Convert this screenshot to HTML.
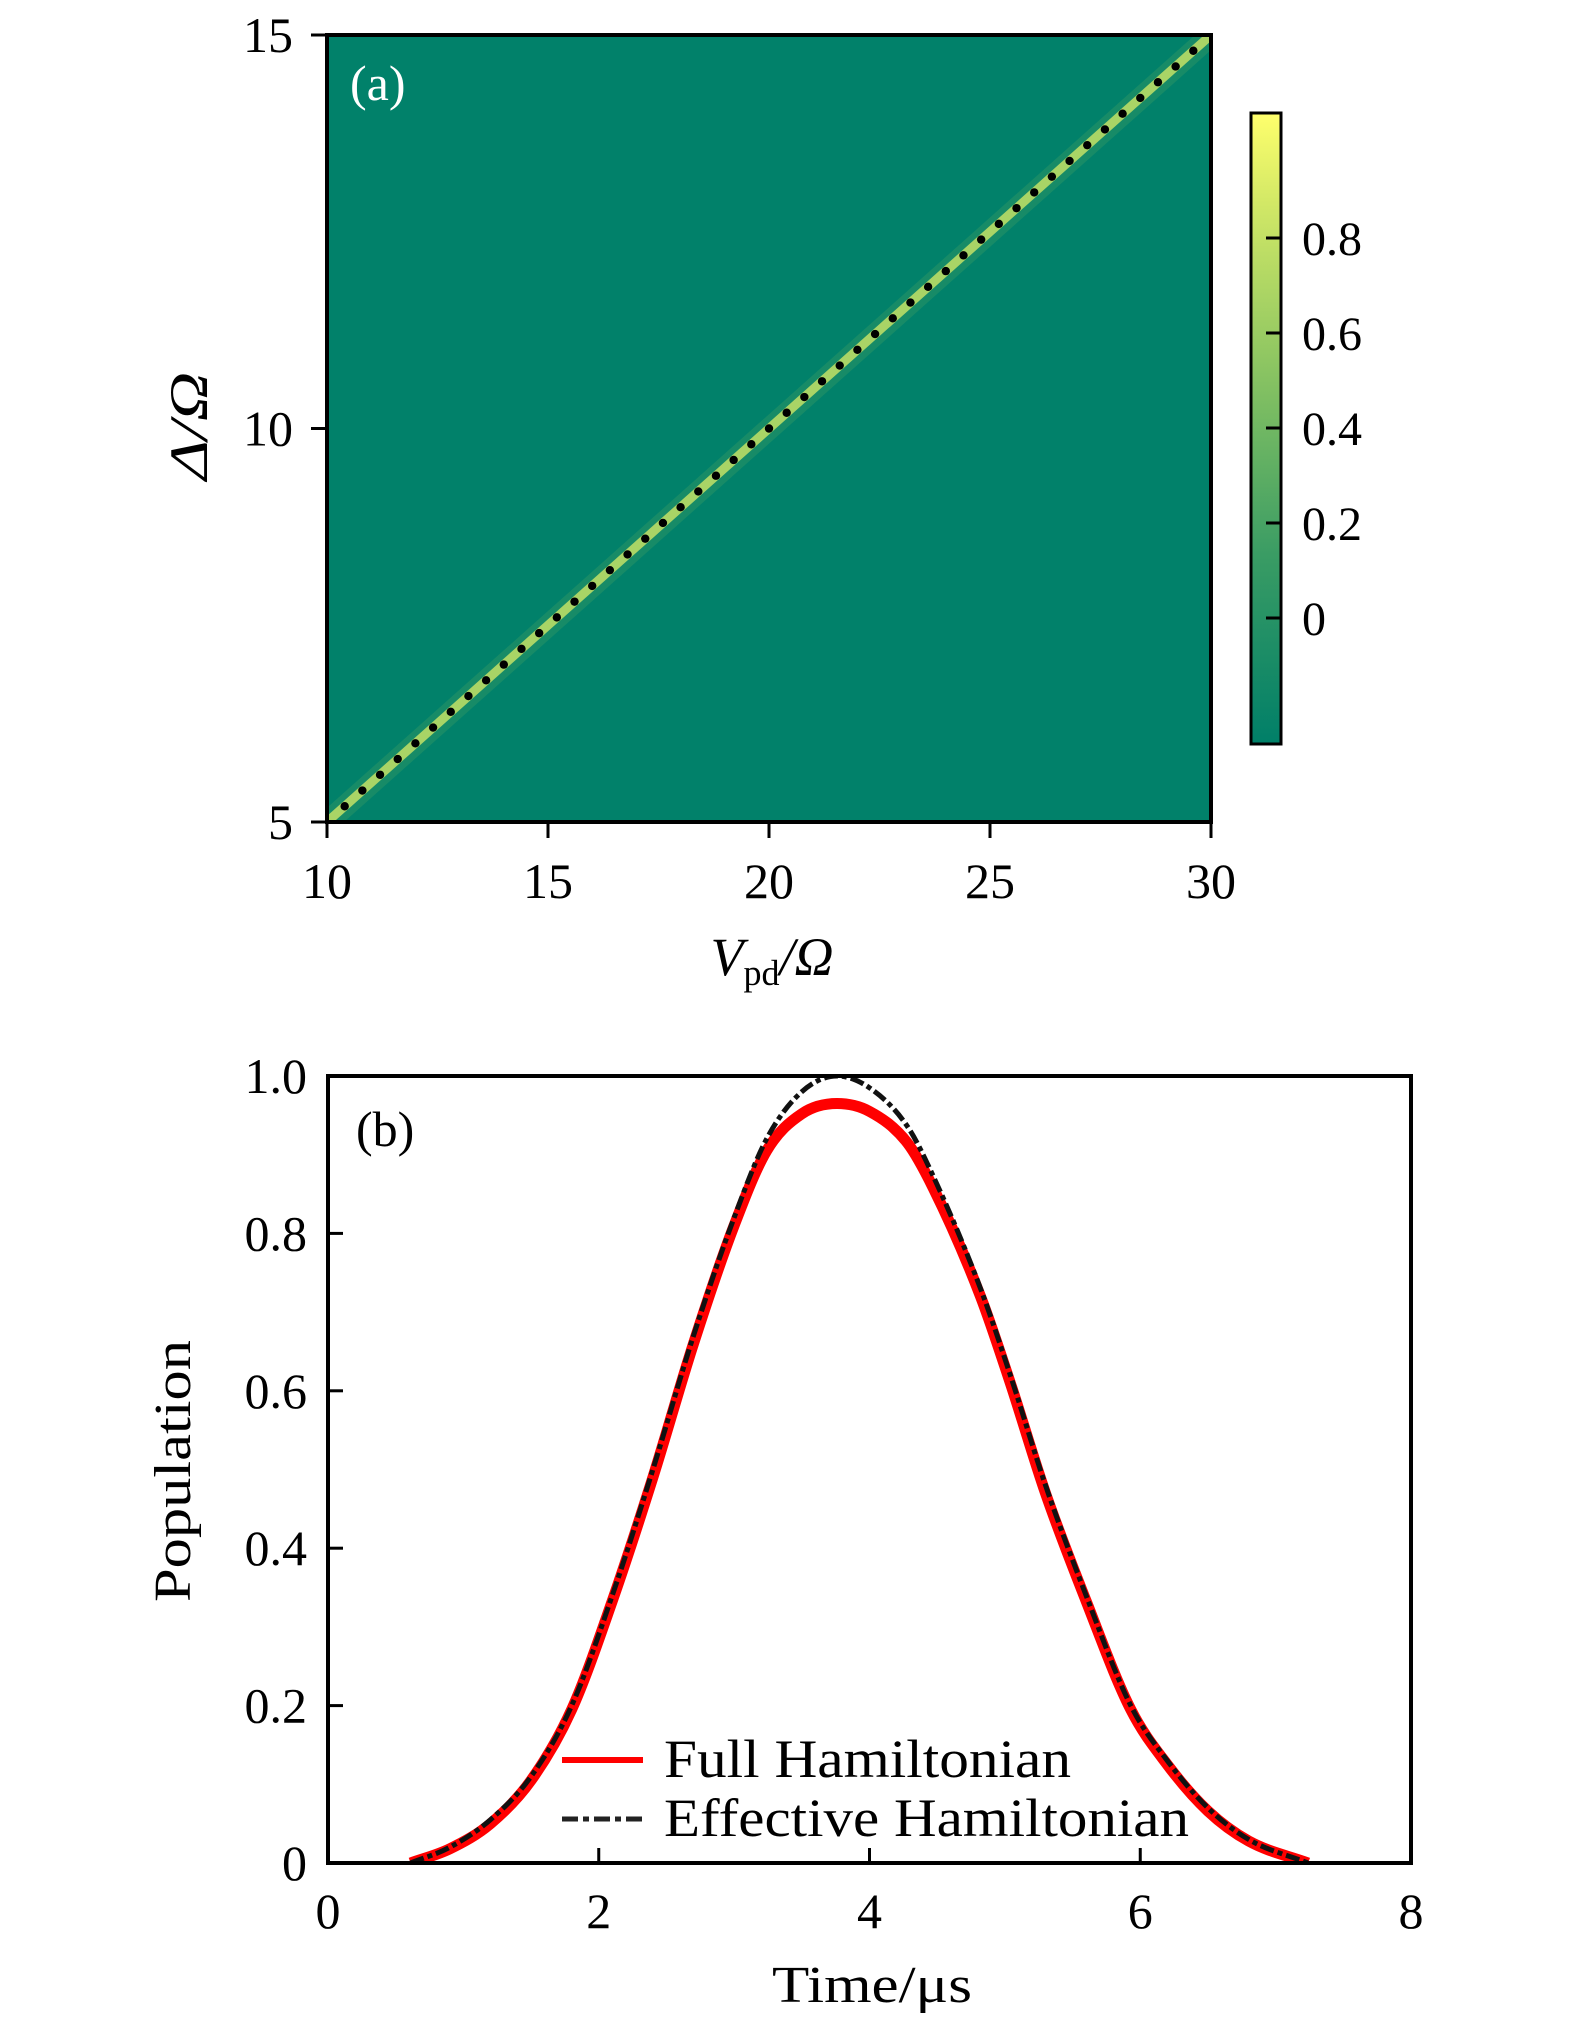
<!DOCTYPE html>
<html><head><meta charset="utf-8">
<style>
html,body{margin:0;padding:0;background:#fff;}
svg{display:block;}
text{font-family:"Liberation Serif","DejaVu Serif",serif;fill:#000;}
</style></head>
<body>
<svg id="fig" width="1575" height="2018" viewBox="0 0 1575 2018" xmlns="http://www.w3.org/2000/svg">
  <defs>
    <linearGradient id="cbgrad" x1="0" y1="1" x2="0" y2="0">
      <stop offset="0" stop-color="#007f68"/>
      <stop offset="0.3" stop-color="#3a9c64"/>
      <stop offset="0.6" stop-color="#8cc562"/>
      <stop offset="0.85" stop-color="#d0e766"/>
      <stop offset="1" stop-color="#ffff6c"/>
    </linearGradient>
    <clipPath id="clipA"><rect x="327" y="35" width="884" height="787"/></clipPath>
    <clipPath id="clipB"><rect x="328" y="1076" width="1083" height="787"/></clipPath>
  </defs>
  <g id="panelA">
    <rect x="327" y="35" width="884" height="787" fill="#01816a"/>
    <g id="bandA" clip-path="url(#clipA)"></g>
    <g id="dotsA" clip-path="url(#clipA)"></g>
    <rect x="327" y="35" width="884" height="787" fill="none" stroke="#000" stroke-width="4"/>
    <g id="ticksA"></g>
    <text x="350" y="100" font-size="50" style="fill:#fff">(a)</text>
    <text x="772" y="975" font-size="54" text-anchor="middle" font-style="italic">V<tspan font-style="normal" font-size="36" dy="10">pd</tspan><tspan dy="-10">/Ω</tspan></text>
    <text transform="translate(207,426) rotate(-90)" font-size="54" text-anchor="middle" font-style="italic" textLength="108" lengthAdjust="spacingAndGlyphs">Δ/Ω</text>
    <rect x="1251" y="113" width="30" height="631" fill="url(#cbgrad)" stroke="#000" stroke-width="3"/>
    <g id="cbTicks"></g>
  </g>
  <g id="panelB">
    <g id="linesB" clip-path="url(#clipB)"></g>
    <rect x="328" y="1076" width="1083" height="787" fill="none" stroke="#000" stroke-width="4"/>
    <g id="ticksB"></g>
    <text x="356" y="1146" font-size="50">(b)</text>
    <line x1="562" y1="1760" x2="643" y2="1760" stroke="#f00" stroke-width="6"/>
    <line x1="562" y1="1819" x2="643" y2="1819" stroke="#222" stroke-width="5" stroke-dasharray="16,5,6,5"/>
    <text x="664" y="1777" font-size="54" textLength="407" lengthAdjust="spacingAndGlyphs">Full Hamiltonian</text>
    <text x="664" y="1836" font-size="54" textLength="525" lengthAdjust="spacingAndGlyphs">Effective Hamiltonian</text>
    <text x="872" y="2002" font-size="52" text-anchor="middle" textLength="200" lengthAdjust="spacingAndGlyphs">Time/μs</text>
    <text transform="translate(190,1471) rotate(-90)" font-size="52" text-anchor="middle" textLength="262" lengthAdjust="spacingAndGlyphs">Population</text>
  </g>
</svg>
<script>
// ---- Panel (a) data ----
const aXTicks = [10, 15, 20, 25, 30];
const aYTicks = [5, 10, 15];
const cbTicks = [0, 0.2, 0.4, 0.6, 0.8];
const resV = [10, 30];          // resonance line endpoints (Vpd/Ω)
const resD = [5, 15];           // resonance line endpoints (Δ/Ω)
const dotV = [10.4,10.8,11.2,11.6,12.0,12.4,12.8,13.2,13.6,14.0,14.4,14.8,15.2,15.6,16.0,16.4,16.8,17.2,17.6,18.0,18.4,18.8,19.2,19.6,20.0,20.4,20.8,21.2,21.6,22.0,22.4,22.8,23.2,23.6,24.0,24.4,24.8,25.2,25.6,26.0,26.4,26.8,27.2,27.6,28.0,28.4,28.8,29.2,29.6];
const dotD = [5.2,5.4,5.6,5.8,6.0,6.2,6.4,6.6,6.8,7.0,7.2,7.4,7.6,7.8,8.0,8.2,8.4,8.6,8.8,9.0,9.2,9.4,9.6,9.8,10.0,10.2,10.4,10.6,10.8,11.0,11.2,11.4,11.6,11.8,12.0,12.2,12.4,12.6,12.8,13.0,13.2,13.4,13.6,13.8,14.0,14.2,14.4,14.6,14.8];
// ---- Panel (b) data ----
const bXTicks = [0, 2, 4, 6, 8];
const bYTicks = [0, 0.2, 0.4, 0.6, 0.8, 1.0];
const bYLabels = ["0", "0.2", "0.4", "0.6", "0.8", "1.0"];
const timeUs = [0.61,0.9,1.2,1.5,1.8,2.1,2.4,2.7,3.0,3.24,3.5,3.76,4.0,4.28,4.47,4.82,5.04,5.3,5.6,5.93,6.2,6.5,6.8,7.24];
const popEff = [0,0.02,0.055,0.11,0.2,0.34,0.5,0.67,0.82,0.92,0.98,1.0,0.985,0.936,0.873,0.73,0.62,0.48,0.34,0.2,0.13,0.07,0.03,0];
const popFull = [0,0.018,0.05,0.105,0.195,0.333,0.49,0.66,0.81,0.905,0.952,0.965,0.955,0.915,0.858,0.72,0.61,0.47,0.333,0.195,0.125,0.066,0.028,0];

const NS = "http://www.w3.org/2000/svg";
function mk(tag, attrs, parent){ const e=document.createElementNS(NS,tag); for(const k in attrs) e.setAttribute(k,attrs[k]); parent.appendChild(e); return e; }
const ax = v => 327 + (v-10)/20*884;
const ay = v => 822 - (v-5)/10*787;
const cy = v => 618 - v/0.8*380;
const bx = v => 328 + v/8*1083;
const by = v => 1863 - v*787;

const tA = document.getElementById('ticksA');
aXTicks.forEach(v=>{
  const l = mk('line',{x1:ax(v),y1:822,x2:ax(v),y2:838,stroke:'#000','stroke-width':3},tA);
  
  
  const t = mk('text',{x:ax(v),y:898,'font-size':50,'text-anchor':'middle'},tA);
  t.textContent = v;
  
  
});
aYTicks.forEach(v=>{
  const l = mk('line',{x1:311,y1:ay(v),x2:327,y2:ay(v),stroke:'#000','stroke-width':3},tA);
  
  
  const t = mk('text',{x:293,y:ay(v)+17,'font-size':50,'text-anchor':'end'},tA);
  t.textContent = v;
  
  
});
const cbG = document.getElementById('cbTicks');
cbTicks.forEach(v=>{
  const l = mk('line',{x1:1266,y1:cy(v),x2:1281,y2:cy(v),stroke:'#000','stroke-width':3},cbG);
  
  
  const t = mk('text',{x:1302,y:cy(v)+17,'font-size':48},cbG);
  t.textContent = v;
  
  
});
const band = document.getElementById('bandA');
const b1 = mk('line',{x1:ax(resV[0])-4,y1:ay(resD[0])+4,x2:ax(resV[1])-4,y2:ay(resD[1])+4,stroke:'#3a9c64','stroke-width':22,'stroke-opacity':0.4},band);


const b2 = mk('line',{x1:ax(resV[0]),y1:ay(resD[0]),x2:ax(resV[1]),y2:ay(resD[1]),stroke:'#a9d466','stroke-width':9},band);


const dG = document.getElementById('dotsA');
dotV.forEach((v,i)=>{
  const c = mk('circle',{cx:ax(v),cy:ay(dotD[i]),r:4.2,fill:'#000'},dG);
  
  
});

const tB = document.getElementById('ticksB');
bXTicks.forEach(v=>{
  const l = mk('line',{x1:bx(v),y1:1863,x2:bx(v),y2:1848,stroke:'#000','stroke-width':3},tB);
  
  
  const t = mk('text',{x:bx(v),y:1928,'font-size':50,'text-anchor':'middle'},tB);
  t.textContent = v;
  
  
});
bYTicks.forEach((v,i)=>{
  const l = mk('line',{x1:328,y1:by(v),x2:343,y2:by(v),stroke:'#000','stroke-width':3},tB);
  
  
  const t = mk('text',{x:307,y:by(v)+17,'font-size':50,'text-anchor':'end'},tB);
  t.textContent = bYLabels[i];
  
  
});
// monotone cubic (Fritsch-Carlson) path through data points
function smoothPath(xs, ys){
  const P = xs.map((x,i)=>[bx(x),by(ys[i])]);
  const n = P.length, d = [], m = [];
  for(let i=0;i<n-1;i++) d.push((P[i+1][1]-P[i][1])/(P[i+1][0]-P[i][0]));
  m[0]=d[0]; m[n-1]=d[n-2];
  for(let i=1;i<n-1;i++){ m[i] = (d[i-1]*d[i] <= 0) ? 0 : (d[i-1]+d[i])/2; }
  for(let i=0;i<n-1;i++){
    if(d[i]===0){ m[i]=0; m[i+1]=0; continue; }
    const a=m[i]/d[i], b=m[i+1]/d[i], s=a*a+b*b;
    if(s>9){ const t=3/Math.sqrt(s); m[i]=t*a*d[i]; m[i+1]=t*b*d[i]; }
  }
  let path = `M${P[0][0]},${P[0][1]}`;
  for(let i=0;i<n-1;i++){
    const h = (P[i+1][0]-P[i][0])/3;
    path += ` C${P[i][0]+h},${P[i][1]+m[i]*h} ${P[i+1][0]-h},${P[i+1][1]-m[i+1]*h} ${P[i+1][0]},${P[i+1][1]}`;
  }
  return path;
}
const lG = document.getElementById('linesB');
const red = mk('path',{d:smoothPath(timeUs,popFull),fill:'none',stroke:'#f00','stroke-width':11,'stroke-linejoin':'round'},lG);


const blk = mk('path',{d:smoothPath(timeUs,popEff),fill:'none',stroke:'#111','stroke-width':5,'stroke-dasharray':'14,4,5,4'},lG);


</script>
</body></html>
